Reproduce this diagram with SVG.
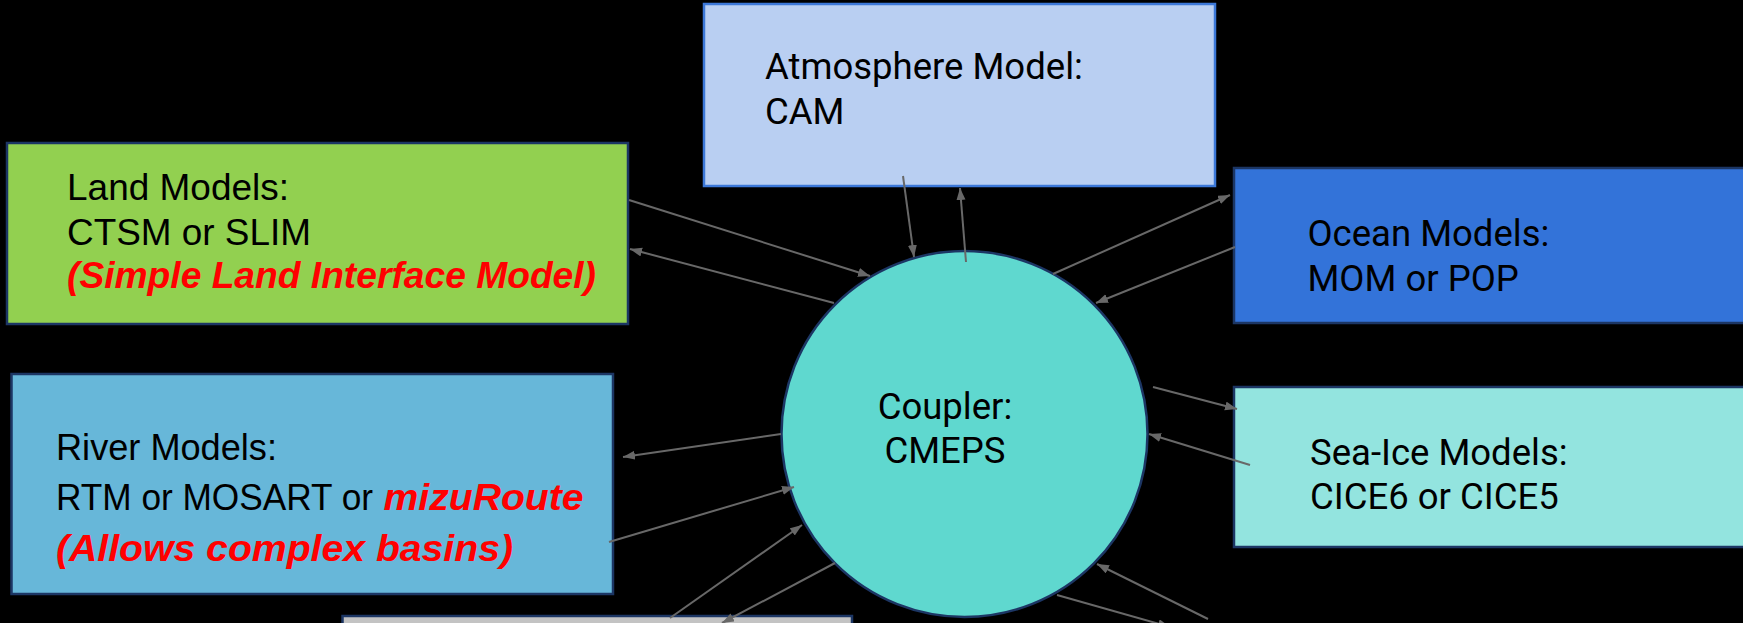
<svg xmlns="http://www.w3.org/2000/svg" width="1743" height="623" viewBox="0 0 1743 623">
<defs>
<marker id="ah" markerUnits="userSpaceOnUse" markerWidth="12" markerHeight="10" refX="12" refY="4.5" orient="auto">
<path d="M0,0 L12,4.5 L0,9 z" fill="#686868"/>
</marker>
<style>
.box{stroke:#1c3664;stroke-width:2.5}
.rb{font-family:Roboto,"Liberation Sans",sans-serif;font-size:36.5px;fill:#000}
.ar{font-family:"Liberation Sans",Arial,sans-serif;font-size:37px;fill:#000}
.red{font-family:"Liberation Sans",Arial,sans-serif;font-size:37px;font-weight:bold;font-style:italic;fill:#ff0000}
.cn line{stroke:#686868;stroke-width:2;marker-end:url(#ah)}
</style>
</defs>
<rect x="0" y="0" width="1743" height="623" fill="#000"/>
<g id="atmosphere">
<rect x="704" y="4" width="511" height="182" fill="#b9cff2" stroke="#3c78d8" stroke-width="2.5"/>
<text class="rb" x="765" y="79">Atmosphere Model:</text>
<text class="rb" x="765" y="124">CAM</text>
</g>
<g id="land">
<rect class="box" x="7" y="143" width="621" height="181" fill="#92d050"/>
<text class="ar" x="67" y="200" textLength="222" lengthAdjust="spacingAndGlyphs">Land Models:</text>
<text class="ar" x="67" y="245" textLength="244" lengthAdjust="spacingAndGlyphs">CTSM or SLIM</text>
<text class="red" x="67" y="288" textLength="529" lengthAdjust="spacingAndGlyphs">(Simple Land Interface Model)</text>
</g>
<g id="ocean">
<rect class="box" x="1234" y="168" width="520" height="155" fill="#3373d9"/>
<text class="rb" x="1307.5" y="246">Ocean Models:</text>
<text class="rb" x="1307.5" y="291">MOM or POP</text>
</g>
<g id="seaice">
<rect class="box" x="1234" y="387" width="520" height="160" fill="#93e4df"/>
<text class="rb" x="1310" y="465">Sea-Ice Models:</text>
<text class="rb" x="1310" y="509">CICE6 or CICE5</text>
</g>
<g id="river">
<rect class="box" x="11.5" y="374" width="601.5" height="220" fill="#67b7d9"/>
<text class="ar" x="56" y="460" textLength="221" lengthAdjust="spacingAndGlyphs">River Models:</text>
<text class="ar" x="56" y="510" textLength="317" lengthAdjust="spacingAndGlyphs">RTM or MOSART or</text>
<text class="red" x="383.5" y="510" textLength="200" lengthAdjust="spacingAndGlyphs">mizuRoute</text>
<text class="red" x="56" y="561" textLength="457" lengthAdjust="spacingAndGlyphs">(Allows complex basins)</text>
</g>
<g id="bottom">
<rect class="box" x="342.5" y="616" width="509.5" height="30" fill="#c3c3c3"/>
</g>
<g id="coupler">
<circle cx="964.5" cy="434" r="183" fill="#5fd8cf" stroke="#1c3664" stroke-width="2.5"/>
<text class="rb" x="945" y="419" text-anchor="middle">Coupler:</text>
<text class="rb" x="945" y="463" text-anchor="middle">CMEPS</text>
</g>
<g id="connectors" class="cn">
<line x1="629" y1="200" x2="870" y2="276"/>
<line x1="834" y1="303" x2="630" y2="249"/>
<line x1="903" y1="176" x2="914" y2="257"/>
<line x1="966" y1="262" x2="960" y2="188"/>
<line x1="1053" y1="274" x2="1230" y2="195"/>
<line x1="1235" y1="247" x2="1096" y2="303"/>
<line x1="1153" y1="387" x2="1237" y2="409"/>
<line x1="1250" y1="465" x2="1149" y2="434"/>
<line x1="781" y1="434" x2="623" y2="457"/>
<line x1="609" y1="542" x2="794" y2="487"/>
<line x1="670" y1="618" x2="802" y2="525"/>
<line x1="835" y1="563" x2="722" y2="623"/>
<line x1="1208" y1="619" x2="1097" y2="564"/>
<line x1="1057" y1="595" x2="1170" y2="627"/>
</g>
</svg>
